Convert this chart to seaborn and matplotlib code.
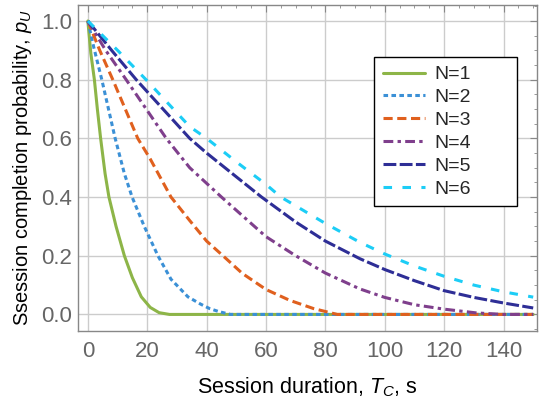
import numpy as np
import pandas as pd
import seaborn as sns
import matplotlib
matplotlib.use("Agg")
from matplotlib import pyplot as plt
from matplotlib.ticker import MultipleLocator

# Values (session duration in s -> completion probability)
t_n1 = [0, 1, 2.2, 3.2, 4.3, 5.8, 7.1, 9.5, 12.3, 15, 18, 21, 24, 27.5, 150]
p_n1 = [1.0, 0.89, 0.8, 0.7, 0.6, 0.48, 0.4, 0.3, 0.2, 0.125, 0.06, 0.024, 0.006, 0.0, 0.0]

t_n2 = [0, 2, 4.7, 9.2, 12.3, 14.9, 19, 23.6, 28, 33.7, 38, 41, 44, 48, 150]
p_n2 = [1.0, 0.91, 0.8, 0.6, 0.48, 0.4, 0.3, 0.2, 0.12, 0.06, 0.035, 0.02, 0.01, 0.0, 0.0]

t_n3 = [0, 4, 8.4, 16.8, 21, 28, 34.3, 40, 45.5, 52, 60, 68, 76, 84, 150]
p_n3 = [1.0, 0.9, 0.8, 0.6, 0.53, 0.4, 0.32, 0.25, 0.2, 0.14, 0.085, 0.048, 0.02, 0.0, 0.0]

t_n4 = [0, 6, 12.9, 26.4, 34.3, 45, 60, 70, 80, 91.6, 100, 110, 120, 131, 140, 150]
p_n4 = [1.0, 0.9, 0.8, 0.6, 0.5, 0.4, 0.265, 0.2, 0.141, 0.087, 0.058, 0.033, 0.018, 0.005, 0.0, 0.0]

t_n5 = [0, 8, 16.3, 34.3, 40, 58.5, 70, 80, 91.6, 100, 110, 120, 130, 140, 150]
p_n5 = [1.0, 0.9, 0.8, 0.6, 0.55, 0.4, 0.315, 0.25, 0.19, 0.153, 0.115, 0.081, 0.058, 0.039, 0.022]

t_n6 = [0, 10, 19.6, 34.3, 40, 50, 60, 65, 80, 91.6, 100, 110, 120, 130, 140, 150]
p_n6 = [1.0, 0.9, 0.8, 0.64, 0.6, 0.52, 0.443, 0.4, 0.31, 0.246, 0.206, 0.165, 0.13, 0.1, 0.077, 0.059]

labels = ["N=1", "N=2", "N=3", "N=4", "N=5", "N=6"]
colors = ["#8db548", "#3b90d6", "#e0601e", "#7f3f8c", "#2e2e96", "#1ccdf6"]
styles = ["-", (0, (1.5, 1.1)), (0, (3.0, 1.5)), (0, (3.2, 1.4, 1.1, 1.4)),
          (0, (4.2, 1.1)), (0, (2.8, 3.4))]

series = [(t_n1, p_n1), (t_n2, p_n2), (t_n3, p_n3),
          (t_n4, p_n4), (t_n5, p_n5), (t_n6, p_n6)]

sns.set_style("whitegrid")
plt.rcParams["font.family"] = ["Liberation Sans", "DejaVu Sans"]
plt.rcParams["mathtext.fontset"] = "custom"
plt.rcParams["mathtext.it"] = "Liberation Sans:italic"
plt.rcParams["mathtext.rm"] = "Liberation Sans"

fig = plt.figure(figsize=(5.4, 4.03), dpi=100)
ax = fig.add_axes([0.144, 0.179, 0.85, 0.809])

for (t, p), lab, col, ls in zip(series, labels, colors, styles):
    df = pd.DataFrame({"t": t, "p": p})
    sns.lineplot(data=df, x="t", y="p", ax=ax, color=col, linestyle=ls,
                 linewidth=2.2, label=lab)

ax.set_xlim(-3.4, 151.2)
ax.set_ylim(-0.056, 1.055)
ax.xaxis.set_major_locator(MultipleLocator(20))
ax.xaxis.set_minor_locator(MultipleLocator(5))
ax.yaxis.set_minor_locator(MultipleLocator(0.05))
ax.set_yticks([0, 0.2, 0.4, 0.6, 0.8, 1.0])
ax.set_yticklabels(["0.0", "0.2", "0.4", "0.6", "0.8", "1.0"])

ax.grid(True, which="major", color="#cccccc", linewidth=1.0)
ax.grid(False, which="minor")
for s in ax.spines.values():
    s.set_color("#888888")
    s.set_linewidth(1.0)
ax.tick_params(which="both", direction="in", top=True, right=True,
               color="#888888", labelcolor="#666666", labelsize=16)
ax.tick_params(which="major", length=5, width=0.8)
ax.tick_params(which="minor", length=2.5, width=0.6)
ax.tick_params(axis="x", which="major", pad=7)
ax.tick_params(axis="y", which="major", pad=4)

ax.set_xlabel("Session duration, $T_C$, s", fontsize=15.5, color="black", labelpad=10)
ax.set_ylabel("Ssession completion probability, $p_U$", fontsize=14.5, color="black", labelpad=5)

leg = ax.legend(loc="upper left", bbox_to_anchor=(0.645, 0.840, 0.311, 0.0), mode="expand",
                fontsize=14, frameon=True, fancybox=False, edgecolor="black", framealpha=1,
                handlelength=2.2, labelspacing=0.27, borderpad=0.45, handletextpad=0.45,
                borderaxespad=0.0)
leg.get_frame().set_linewidth(1.0)

fig.savefig("out.png", dpi=100)
